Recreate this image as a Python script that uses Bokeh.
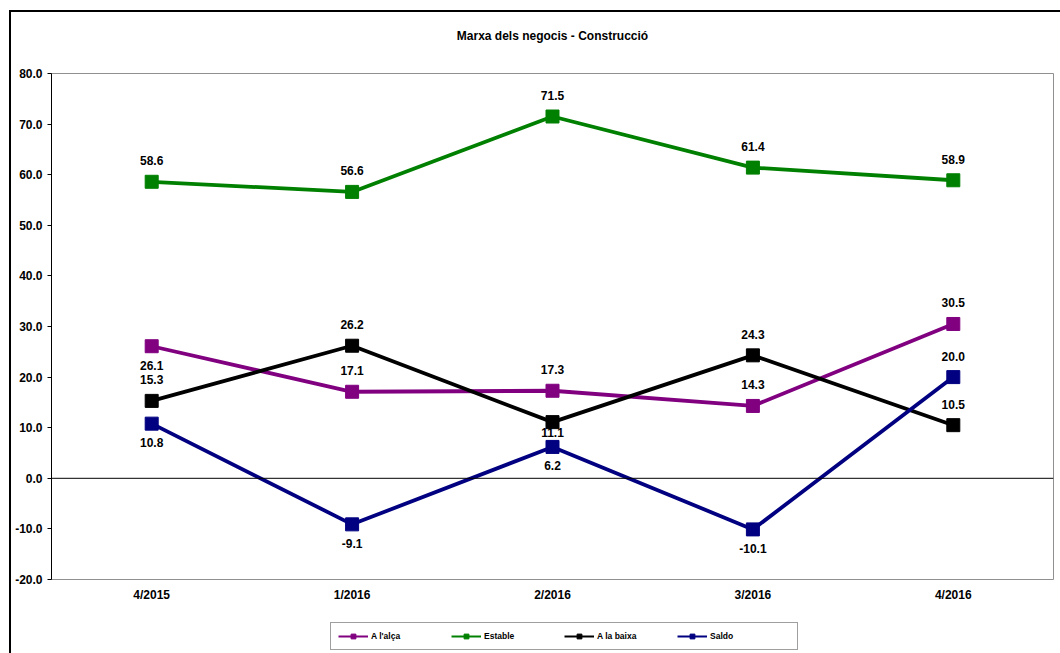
from bokeh.plotting import figure
from bokeh.layouts import column
from bokeh.models import (FixedTicker, NumeralTickFormatter, Span, Legend, LegendItem,
                          ColumnDataSource, Range1d, FactorRange, Title)
from bokeh.embed import file_html
from bokeh.resources import INLINE

# ---- data ----
quarters = ["4/2015", "1/2016", "2/2016", "3/2016", "4/2016"]
a_lalca = [26.1, 17.1, 17.3, 14.3, 30.5]
estable = [58.6, 56.6, 71.5, 61.4, 58.9]
a_la_baixa = [15.3, 26.2, 11.1, 24.3, 10.5]
saldo = [10.8, -9.1, 6.2, -10.1, 20.0]
y_ticks = [-20, -10, 0, 10, 20, 30, 40, 50, 60, 70, 80]

title_text = "Marxa dels negocis - Construcció"
series_names = ["A l'alça", "Estable", "A la baixa", "Saldo"]

# ---- style ----
colors = ["#800080", "#008000", "#000000", "#000080"]
label_place = [
    ["below", "above", "above", "above", "above"],
    ["above"] * 5,
    ["above", "above", "near", "above", "above"],
    ["below", "below", "below", "below", "above"],
]
place_offset = {"above": -21, "below": 19, "near": 10}
FONT = "Liberation Sans"

p = figure(width=1049, height=607, x_range=FactorRange(*quarters), y_range=Range1d(-20, 80),
           output_backend="svg", toolbar_location=None,
           min_border_left=40, min_border_right=7, min_border_top=60, min_border_bottom=40)

p.title.text = title_text
p.title.align = "center"
p.title.text_font = FONT
p.title.text_font_size = "12px"
p.title.text_font_style = "bold"
p.title.text_color = "black"
p.title.standoff = 29
# blank spacer title between the chart title and the plot area
p.add_layout(Title(text=" ", text_font_size="12px", standoff=0), "above")

p.xgrid.grid_line_color = None
p.ygrid.grid_line_color = None
p.outline_line_color = "#909090"
p.outline_line_width = 1
p.background_fill_color = "white"
p.border_fill_color = "white"

# y axis
p.yaxis.ticker = FixedTicker(ticks=y_ticks)
p.yaxis.formatter = NumeralTickFormatter(format="0.0")
p.yaxis.minor_tick_line_color = None
p.yaxis.major_tick_in = 0
p.yaxis.major_tick_out = 4
p.yaxis.major_label_standoff = 5
p.yaxis.axis_line_color = "black"
p.yaxis.major_tick_line_color = "black"
p.yaxis.major_label_text_font = FONT
p.yaxis.major_label_text_font_style = "bold"
p.yaxis.major_label_text_font_size = "12px"
p.yaxis.major_label_text_color = "black"

# x axis
p.xaxis.axis_line_color = None
p.xaxis.major_tick_line_color = None
p.xaxis.minor_tick_line_color = None
p.xaxis.major_tick_out = 0
p.xaxis.major_tick_in = 0
p.xaxis.major_label_standoff = 8
p.xaxis.major_label_text_font = FONT
p.xaxis.major_label_text_font_style = "bold"
p.xaxis.major_label_text_font_size = "12px"
p.xaxis.major_label_text_color = "black"

p.add_layout(Span(location=0, dimension="width", line_color="black", line_width=1))

# legend strip (separate small figure below the chart)
pl = figure(width=1049, height=34, x_range=Range1d(0, 1), y_range=Range1d(0, 1),
            output_backend="svg", toolbar_location=None,
            x_axis_location=None, y_axis_location=None,
            min_border_left=0, min_border_right=0, min_border_top=0, min_border_bottom=0)
pl.xgrid.grid_line_color = None
pl.ygrid.grid_line_color = None
pl.outline_line_color = None
pl.background_fill_color = "white"
pl.border_fill_color = "white"

items = []
for name, vals, color, pos in zip(series_names, [a_lalca, estable, a_la_baixa, saldo],
                                  colors, label_place):
    src = ColumnDataSource(dict(
        x=quarters, y=vals,
        lbl=["%.1f" % v for v in vals],
        off=[place_offset[q] for q in pos],
    ))
    p.line("x", "y", source=src, line_color=color, line_width=3.8)
    p.scatter("x", "y", source=src, marker="square", size=13, fill_color=color, line_color=color)
    p.text("x", "y", text="lbl", source=src, y_offset="off", text_align="center",
           text_baseline="middle", text_font_size="12px", text_font_style="bold",
           text_color="black")
    # legend renderers (hidden): line + small marker
    leg_ln = pl.line([0], [0], line_color=color, line_width=2, visible=False)
    leg_sc = pl.scatter([0], [0], marker="square", size=7, fill_color=color,
                        line_color=color, visible=False)
    items.append(LegendItem(label=name, renderers=[leg_ln, leg_sc]))

legend = Legend(items=items, orientation="horizontal", location=(279, 3),
                glyph_width=30, glyph_height=12, label_height=12, label_width=80,
                label_standoff=3, spacing=0, padding=7, margin=0,
                label_text_font=FONT, label_text_font_size="8.5px", label_text_font_style="bold",
                label_text_color="black",
                border_line_color="#404040", border_line_width=1,
                background_fill_color="white", background_fill_alpha=1)
pl.add_layout(legend)

layout = column(p, pl, spacing=0)
layout.styles = {"border-left": "2px solid #000000", "border-top": "2px solid #000000",
                 "margin-left": "9px", "margin-top": "10px"}

open("out.html", "w").write(file_html(layout, INLINE))
